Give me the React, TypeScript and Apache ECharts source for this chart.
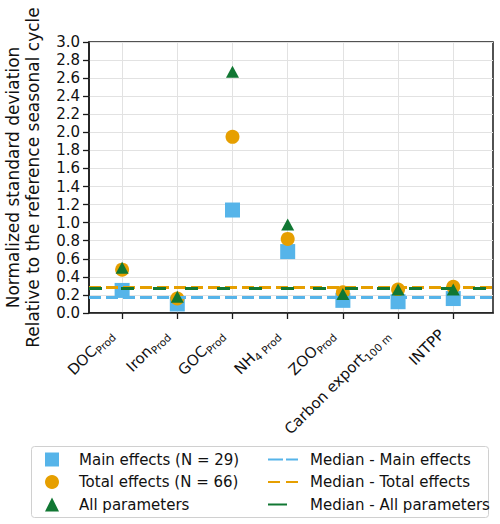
import React, { useEffect, useRef } from 'react';
import * as echarts from 'echarts';

// Category labels (main text + subscript)
const categoryMain = ['DOC', 'Iron', 'GOC', 'NH', 'ZOO', 'Carbon export', 'INTPP'];
const categorySub = ['Prod', 'Prod', 'Prod', '4 Prod', 'Prod', '100 m', ''];

// Series values
const mainEffects = [0.25, 0.1, 1.14, 0.68, 0.14, 0.125, 0.16];
const totalEffects = [0.48, 0.16, 1.95, 0.82, 0.23, 0.26, 0.29];
const allParameters = [0.5, 0.18, 2.67, 0.98, 0.21, 0.26, 0.26];

// Medians
const medianMain = 0.17;
const medianTotal = 0.288;
const medianAll = 0.266;

// Series names
const scatterNames = ['Main effects (N = 29)', 'Total effects (N = 66)', 'All parameters'];
const medianNames = ['Median - Main effects', 'Median - Total effects', 'Median - All parameters'];

const BLUE = '#56B4E9';
const ORANGE = '#E69F00';
const GREEN = '#117733';
const FONT = 'DejaVu Sans';

export default function App() {
  const ref = useRef<HTMLDivElement>(null);

  useEffect(() => {
    const chart = echarts.init(ref.current!, null, { renderer: 'svg' });
    const idx = categoryMain.map((_, i) => i);
    const toPoints = (vals: number[]) => vals.map((v, i) => [i, v]);

    const medianSeries = (
      name: string,
      value: number,
      color: string,
      dash: number[],
      legendDash: number[]
    ) => ({
      name,
      type: 'line',
      data: [],
      symbol: 'none',
      z: 1,
      itemStyle: { color: 'rgba(0,0,0,0)', borderWidth: 0 },
      lineStyle: { color, width: 3, type: legendDash },
      markLine: {
        silent: true,
        symbol: 'none',
        label: { show: false },
        emphasis: { disabled: true },
        lineStyle: { color, width: 3, type: dash },
        data: [{ yAxis: value }],
      },
    });

    const option: any = {
      animation: false,
      textStyle: { fontFamily: FONT },
      grid: {
        left: 89,
        right: 7,
        top: 42,
        bottom: 211,
        containLabel: false,
        outerBoundsMode: 'none',
        show: true,
        borderColor: '#1a1a1a',
        borderWidth: 1.5,
        backgroundColor: 'transparent',
      },
      xAxis: {
        type: 'value',
        min: -0.6,
        max: 6.72,
        axisLine: { show: true, onZero: false, lineStyle: { color: '#1a1a1a', width: 1.5 } },
        axisTick: { show: true, length: 6, customValues: idx, lineStyle: { color: '#1a1a1a', width: 1.3 } },
        splitLine: { show: true, lineStyle: { color: '#e2e2e2', width: 1 } },
        axisLabel: {
          customValues: idx,
          rotate: 45,
          margin: 22,
          verticalAlign: 'bottom',
          padding: [0, 6, 0, 0],
          formatter: (v: number) => {
            const i = Math.round(v);
            if (Math.abs(v - i) > 1e-6 || i < 0 || i >= categoryMain.length) return '';
            return categorySub[i] ? `{m|${categoryMain[i]}}{s|${categorySub[i]}}` : `{m|${categoryMain[i]}}`;
          },
          rich: {
            m: { fontSize: 15, color: '#111', fontFamily: FONT, lineHeight: 20 },
            s: { fontSize: 10.5, color: '#111', fontFamily: FONT, verticalAlign: 'bottom', lineHeight: 12 },
          },
        },
      },
      yAxis: {
        type: 'value',
        min: 0,
        max: 3,
        interval: 0.2,
        name: 'Normalized standard deviation\nRelative to the reference seasonal cycle',
        nameLocation: 'middle',
        nameRotate: 90,
        nameGap: 46,
        nameTextStyle: { fontSize: 17, lineHeight: 20, color: '#111', fontFamily: FONT },
        axisLine: { show: true, onZero: false, lineStyle: { color: '#1a1a1a', width: 1.5 } },
        axisTick: { show: true, length: 6, lineStyle: { color: '#1a1a1a', width: 1.3 } },
        splitLine: { show: true, lineStyle: { color: '#e2e2e2', width: 1 } },
        axisLabel: {
          fontSize: 15,
          color: '#111',
          margin: 9,
          fontFamily: FONT,
          formatter: (v: number) => v.toFixed(1),
        },
      },
      legend: [
        {
          data: scatterNames,
          orient: 'vertical',
          left: 45,
          top: 452,
          padding: 0,
          itemWidth: 14,
          itemHeight: 14,
          itemGap: 7.5,
          selectedMode: false,
          textStyle: { fontSize: 15, color: '#111', fontFamily: FONT, padding: [0, 0, 0, 15] },
        },
        {
          data: medianNames,
          orient: 'vertical',
          left: 267,
          top: 452,
          padding: 0,
          itemWidth: 30,
          itemHeight: 14,
          itemGap: 7.5,
          selectedMode: false,
          itemStyle: { opacity: 0 },
          textStyle: { fontSize: 15, color: '#111', fontFamily: FONT, padding: [0, 0, 0, 7] },
        },
      ],
      graphic: [
        {
          type: 'rect',
          left: 31,
          top: 446,
          z: 3,
          shape: { width: 457, height: 71, r: 3 },
          style: { fill: 'rgba(255,255,255,0.85)', stroke: '#d0d0d0', lineWidth: 1 },
        },
      ],
      series: [
        medianSeries(medianNames[0], medianMain, BLUE, [12, 5], [15, 3]),
        medianSeries(medianNames[1], medianTotal, ORANGE, [12, 5], [12, 6]),
        medianSeries(medianNames[2], medianAll, GREEN, [13, 19], [19, 15]),
        {
          name: scatterNames[0],
          type: 'scatter',
          symbol: 'rect',
          symbolSize: 15,
          z: 3,
          itemStyle: { color: BLUE, opacity: 1 },
          data: toPoints(mainEffects),
        },
        {
          name: scatterNames[1],
          type: 'scatter',
          symbol: 'circle',
          symbolSize: 14,
          z: 4,
          itemStyle: { color: ORANGE, opacity: 1 },
          data: toPoints(totalEffects),
        },
        {
          name: scatterNames[2],
          type: 'scatter',
          symbol: 'triangle',
          symbolSize: [13, 12],
          z: 5,
          itemStyle: { color: GREEN, opacity: 1 },
          data: toPoints(allParameters),
        },
      ],
    };

    chart.setOption(option);
    return () => chart.dispose();
  }, []);

  return (
    <div
      ref={ref}
      style={{ position: 'fixed', left: 0, top: 0, width: 500, height: 524, background: '#fff' }}
    />
  );
}
